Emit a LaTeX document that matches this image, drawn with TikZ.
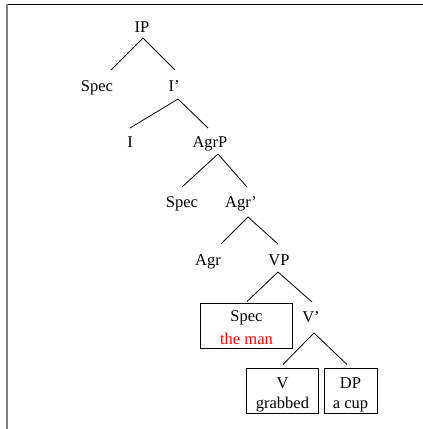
\documentclass[tikz,border=0pt]{standalone}
\usepackage{fontspec}
\setmainfont{Liberation Serif}
\begin{document}
\begin{tikzpicture}[x=1bp,y=-1bp,
  lbl/.style={anchor=base, inner sep=0pt, font=\fontsize{16.5bp}{20bp}\selectfont},
  edge/.style={draw=black, line width=0.8bp},
  cbox/.style={draw=black, line width=1bp, inner sep=0pt, minimum height=45bp},
  frametop/.style={draw=black, line width=1.3bp},
  frameleft/.style={draw={rgb,255:red,128;green,128;blue,128}, line width=1.8bp}]
\useasboundingbox (0,0) rectangle (423,429);
% frame
\draw[frametop] (6,4.6) -- (423,4.6);
\draw[frameleft] (6.6,4) -- (6.6,429);
% nodes
\node[lbl] (IP) at (142,32) {IP};
\node[lbl] (SpecA) at (97,91) {Spec};
\node[lbl] (Ibar) at (174,91) {I’};
\node[lbl] (I) at (130,147) {I};
\node[lbl] (AgrP) at (210,147) {AgrP};
\node[lbl] (SpecB) at (182,207) {Spec};
\node[lbl] (Agrbar) at (241,207) {Agr’};
\node[lbl] (Agr) at (208,265) {Agr};
\node[lbl] (VP) at (279,265) {VP};
\node[cbox, minimum width=91bp] (SpecBox) at (246.5,325.5) {};
\node[lbl] (SpecC) at (246.5,321) {Spec};
\node[lbl, text=red] (theman) at (246.5,344) {the man};
\node[lbl] (Vbar) at (311,322) {V’};
\node[cbox, minimum width=71bp] (VBox) at (282.5,390.5) {};
\node[lbl] (V) at (282.5,388) {V};
\node[lbl] (grabbed) at (282.5,408) {grabbed};
\node[cbox, minimum width=53bp] (DPBox) at (350.5,390.5) {};
\node[lbl] (DP) at (350.5,388) {DP};
\node[lbl] (acup) at (350.5,408) {a cup};
% edges
\draw[edge] ([shift={(1,6)}]IP.base) -- ([shift={(14,-21)}]SpecA.base);
\draw[edge] ([shift={(1,6)}]IP.base) -- ([shift={(1,-21)}]Ibar.base);
\draw[edge] ([shift={(4,8)}]Ibar.base) -- ([shift={(0,-19)}]I.base);
\draw[edge] ([shift={(4,8)}]Ibar.base) -- ([shift={(-2,-19)}]AgrP.base);
\draw[edge] ([shift={(8,7)}]AgrP.base) -- ([shift={(0,-20)}]SpecB.base);
\draw[edge] ([shift={(8,7)}]AgrP.base) -- ([shift={(6,-20)}]Agrbar.base);
\draw[edge] ([shift={(7,10)}]Agrbar.base) -- ([shift={(13,-21)}]Agr.base);
\draw[edge] ([shift={(7,10)}]Agrbar.base) -- ([shift={(-1,-21)}]VP.base);
\draw[edge] ([shift={(-1,7)}]VP.base) -- ([shift={(0.5,-1)}]SpecBox.north);
\draw[edge] ([shift={(-1,7)}]VP.base) -- ([shift={(1,-20)}]Vbar.base);
\draw[edge] ([shift={(3,11)}]Vbar.base) -- ([shift={(0.5,-3)}]VBox.north);
\draw[edge] ([shift={(3,11)}]Vbar.base) -- ([shift={(-3.5,-3)}]DPBox.north);
\end{tikzpicture}
\end{document}
